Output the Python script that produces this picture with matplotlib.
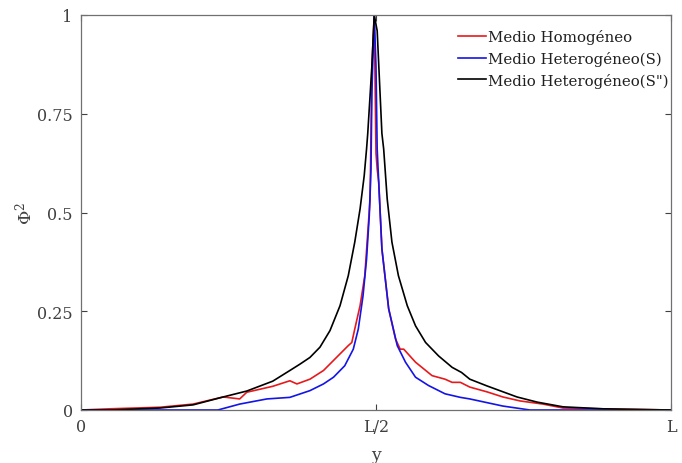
import matplotlib
matplotlib.use("Agg")
import matplotlib.pyplot as plt

# -------------------------------------------------------------------------
# Datos (x en fracción de L)
# -------------------------------------------------------------------------
x_homo = [0.0, 0.049, 0.134, 0.190, 0.241, 0.269, 0.281, 0.325, 0.354, 0.366,
          0.388, 0.411, 0.439, 0.453, 0.459, 0.464, 0.473, 0.481, 0.490,
          0.493, 0.497, 0.500, 0.502, 0.5046, 0.510, 0.5215, 0.533, 0.541,
          0.547, 0.567, 0.595, 0.617, 0.629, 0.643, 0.659, 0.688, 0.715,
          0.744, 0.783, 0.817, 0.914, 1.0]
phi_homo = [0.0, 0.003, 0.007, 0.015, 0.033, 0.028, 0.045, 0.060, 0.074, 0.066,
            0.078, 0.100, 0.142, 0.163, 0.171, 0.205, 0.264, 0.340, 0.534,
            0.870, 1.0, 0.650, 0.610, 0.577, 0.408, 0.256, 0.180, 0.154,
            0.154, 0.121, 0.087, 0.078, 0.070, 0.070, 0.058, 0.046, 0.033,
            0.023, 0.015, 0.005, 0.002, 0.0]

x_het_s = [0.0, 0.232, 0.269, 0.315, 0.354, 0.388, 0.411, 0.428, 0.447,
           0.4615, 0.470, 0.478, 0.484, 0.4886, 0.4915, 0.493, 0.497, 0.500,
           0.502, 0.5046, 0.510, 0.5215, 0.536, 0.550, 0.567, 0.589, 0.617,
           0.643, 0.659, 0.715, 0.761, 1.0]
phi_het_s = [0.0, 0.0, 0.015, 0.028, 0.032, 0.049, 0.066, 0.083, 0.112,
             0.154, 0.205, 0.289, 0.382, 0.492, 0.610, 0.800, 1.0, 0.870,
             0.661, 0.577, 0.408, 0.256, 0.163, 0.121, 0.083, 0.062, 0.041,
             0.032, 0.028, 0.010, 0.0, 0.0]

x_het_s2 = [0.0, 0.049, 0.134, 0.190, 0.241, 0.281, 0.325, 0.354, 0.371,
            0.388, 0.405, 0.422, 0.439, 0.453, 0.464, 0.473, 0.480, 0.484,
            0.486, 0.493, 0.497, 0.502, 0.510, 0.513, 0.519, 0.527, 0.538,
            0.553, 0.567, 0.584, 0.606, 0.629, 0.645, 0.659, 0.688, 0.739,
            0.773, 0.817, 0.885, 1.0]
phi_het_s2 = [0.0, 0.0, 0.005, 0.013, 0.033, 0.048, 0.073, 0.100, 0.116,
              0.133, 0.159, 0.201, 0.264, 0.340, 0.425, 0.509, 0.593, 0.661,
              0.700, 0.870, 1.0, 0.960, 0.700, 0.661, 0.534, 0.425, 0.340,
              0.264, 0.213, 0.171, 0.137, 0.108, 0.095, 0.078, 0.061, 0.033,
              0.020, 0.008, 0.003, 0.0]

etiquetas = ["Medio Homogéneo", "Medio Heterogéneo(S)", "Medio Heterogéneo(S\")"]
xticks_lbl = ["0", "L/2", "L"]
yticks_lbl = ["0", "0.25", "0.5", "0.75", "1"]

# -------------------------------------------------------------------------
# Estilo
# -------------------------------------------------------------------------
plt.rcParams["font.family"] = ["DejaVu Serif"]
plt.rcParams["mathtext.fontset"] = "dejavuserif"

gris = "#404040"

fig = plt.figure(figsize=(6.82, 4.64), dpi=100)
ax = fig.add_axes([81 / 682, 53 / 464, 590 / 682, 395 / 464])

ax.plot(x_homo, phi_homo, color="#e8191c", lw=1.2, label=etiquetas[0])
ax.plot(x_het_s, phi_het_s, color="#1414e6", lw=1.2, label=etiquetas[1])
ax.plot(x_het_s2, phi_het_s2, color="black", lw=1.2, label=etiquetas[2])

ax.set_xlim(0, 1)
ax.set_ylim(0, 1)
ax.set_xticks([0, 0.5, 1])
ax.set_xticklabels(xticks_lbl)
ax.set_yticks([0, 0.25, 0.5, 0.75, 1])
ax.set_yticklabels(yticks_lbl)

ax.tick_params(direction="in", top=True, right=True, length=4,
               labelsize=11.5, colors=gris, pad=6)
for s in ax.spines.values():
    s.set_color("#707070")
    s.set_linewidth(0.9)

ax.set_xlabel("y", fontsize=12.5, color=gris, labelpad=8)
ax.set_ylabel(r"$\Phi^2$", fontsize=12.5, color=gris, labelpad=1)

leg = ax.legend(loc="upper right", bbox_to_anchor=(1.0, 0.972),
                frameon=False, fontsize=10.8, handlelength=1.9,
                handletextpad=0.1, labelspacing=0.45, borderaxespad=0.0,
                borderpad=0.2)
for t in leg.get_texts():
    t.set_color("#202020")

fig.savefig("out.png", dpi=100)
